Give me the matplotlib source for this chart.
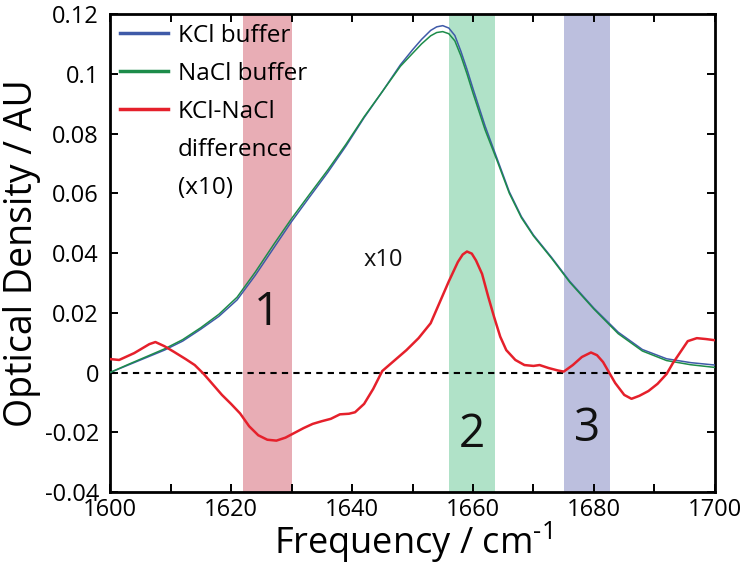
import matplotlib
matplotlib.use("Agg")
import matplotlib.pyplot as plt
from matplotlib.lines import Line2D
from matplotlib.ticker import MultipleLocator

plt.rcParams["font.family"] = ["Open Sans", "DejaVu Sans"]
plt.rcParams["mathtext.fontset"] = "custom"
plt.rcParams["mathtext.rm"] = "Open Sans"

# Buffer spectra (optical density)
freq_buf = [1600, 1603, 1606, 1609, 1612, 1615, 1618, 1621, 1624, 1627, 1630,
            1633, 1636, 1639, 1642, 1645, 1648, 1650, 1651.5, 1653, 1654,
            1655, 1656, 1657, 1658, 1659, 1660, 1662, 1664, 1666, 1668, 1670,
            1673, 1676, 1680, 1684, 1688, 1692, 1696, 1700]
kcl_od = [0.0, 0.0025, 0.005, 0.0075, 0.0105, 0.0145, 0.0188, 0.0243, 0.0325,
          0.0415, 0.0505, 0.0588, 0.067, 0.0758, 0.0853, 0.0940, 0.1030, 0.1080,
          0.1115, 0.1145, 0.1157, 0.1161, 0.1153, 0.1128, 0.1075, 0.1015,
          0.0950, 0.0825, 0.0715, 0.0605, 0.0522, 0.0460, 0.0385, 0.0305,
          0.0215, 0.0135, 0.0077, 0.0046, 0.0033, 0.0025]
nacl_od = [0.0, 0.0027, 0.0053, 0.0079, 0.0110, 0.0150, 0.0195, 0.0252, 0.0336,
           0.0427, 0.0515, 0.0597, 0.0678, 0.0764, 0.0856, 0.0940, 0.1025,
           0.1068, 0.1100, 0.1127, 0.1138, 0.1141, 0.1134, 0.1110, 0.1060,
           0.1000, 0.0935, 0.0812, 0.0708, 0.0600, 0.0518, 0.0457, 0.0382,
           0.0302, 0.0212, 0.0130, 0.0072, 0.0040, 0.0026, 0.0017]

# KCl - NaCl difference (already scaled x10)
freq_diff = [1600, 1601.5, 1604, 1606.5, 1607.5, 1609, 1610.5, 1612.5, 1614,
             1615.5, 1617, 1618.5, 1620, 1621.5, 1623, 1624.5, 1626, 1627.5,
             1629, 1630.5, 1632, 1633.5, 1635, 1636.5, 1638, 1639.5, 1640.5,
             1642, 1643.5, 1645, 1647, 1649, 1651, 1653, 1654.5, 1656, 1657.5,
             1658.3, 1659, 1659.8, 1660.5, 1661.5, 1662.5, 1663.5, 1664.5,
             1665.5, 1667, 1668.5, 1670, 1671, 1672.5, 1674, 1675, 1676.5,
             1678, 1679.5, 1680.5, 1681.5, 1682.5, 1683.5, 1685, 1686.2,
             1687.5, 1689, 1690.5, 1692, 1693, 1694.5, 1695.5, 1697, 1698.5,
             1700]
diff_x10 = [0.0045, 0.0042, 0.0065, 0.0095, 0.0102, 0.0088, 0.0070, 0.0045,
            0.0025, -0.0005, -0.0040, -0.0075, -0.0105, -0.0137, -0.0180,
            -0.0210, -0.0225, -0.0228, -0.0218, -0.0202, -0.0186, -0.0172,
            -0.0163, -0.0155, -0.0140, -0.0138, -0.0133, -0.0105, -0.0055,
            0.0005, 0.0040, 0.0075, 0.0115, 0.0165, 0.0235, 0.0305, 0.0370,
            0.0395, 0.0405, 0.0398, 0.0375, 0.0330, 0.0255, 0.0185, 0.0120,
            0.0075, 0.0042, 0.0025, 0.0022, 0.0025, 0.0015, 0.0007, 0.0003,
            0.0025, 0.0052, 0.0067, 0.0058, 0.0035, 0.0000, -0.0035, -0.0075,
            -0.0088, -0.0078, -0.0062, -0.0038, -0.0005, 0.0030, 0.0075,
            0.0105, 0.0115, 0.0112, 0.0108]

# Highlighted bands
band_labels = ["1", "2", "3"]
band_lo = [1622.0, 1656.0, 1675.0]
band_hi = [1630.0, 1663.7, 1682.7]
band_colors = ["#e8adb5", "#b0e2c8", "#bcbfde"]
band_text_y = [0.020, -0.021, -0.019]

y_ticks = [-0.04, -0.02, 0, 0.02, 0.04, 0.06, 0.08, 0.1, 0.12]
y_ticklabels = ["-0.04", "-0.02", "0", "0.02", "0.04", "0.06", "0.08", "0.1", "0.12"]
x_ticks = [1600, 1620, 1640, 1660, 1680, 1700]

# Legend: one row per line of text, only the first row of the difference gets a line
legend_labels = ["KCl buffer", "NaCl buffer", "KCl-NaCl", "difference", "(x10)"]

BLUE = "#3f5aa8"
GREEN = "#1d8c4a"
RED = "#e5202b"

fig = plt.figure(figsize=(7.45, 5.69), dpi=100)
ax = fig.add_axes([0.1477, 0.1353, 0.8120, 0.8401])

for lo, hi, c, lab, ty in zip(band_lo, band_hi, band_colors, band_labels, band_text_y):
    ax.axvspan(lo, hi, color=c, lw=0, zorder=0)
    ax.text((lo + hi) / 2, ty, lab, fontsize=33, ha="center", va="center", color="#111111")

ax.axhline(0, color="black", linestyle=(0, (3, 2.5)), linewidth=1.5, zorder=1)

ax.plot(freq_buf, kcl_od, color=BLUE, linewidth=1.1, zorder=3)
ax.plot(freq_buf, nacl_od, color=GREEN, linewidth=1.1, zorder=3)
ax.plot(freq_diff, diff_x10, color=RED, linewidth=1.8, zorder=4)

ax.text(1645.2, 0.0375, "x10", fontsize=17, ha="center", va="center", color="#111111")

ax.set_xlim(1600, 1700)
ax.set_ylim(-0.04, 0.12)
ax.set_xticks(x_ticks)
ax.xaxis.set_minor_locator(MultipleLocator(10))
ax.set_yticks(y_ticks)
ax.set_yticklabels(y_ticklabels)
ax.tick_params(which="both", direction="in", top=True, right=True,
               length=6, width=1.4, labelsize=17)
ax.tick_params(axis="x", pad=4)
ax.tick_params(axis="y", pad=8)
for sp in ax.spines.values():
    sp.set_linewidth(2.0)

ax.set_xlabel(r"Frequency / cm$^{\text{-1}}$", fontsize=26, va="center")
ax.xaxis.set_label_coords(0.5, -0.106)
ax.set_ylabel("Optical Density / AU", fontsize=27, va="center")
ax.yaxis.set_label_coords(-0.145, 0.5)

handles = [Line2D([], [], color=BLUE, lw=2.5),
           Line2D([], [], color=GREEN, lw=2.5),
           Line2D([], [], color=RED, lw=2.5),
           Line2D([], [], color="none", lw=2.5),
           Line2D([], [], color="none", lw=2.5)]
ax.legend(handles, legend_labels, loc="upper left", frameon=False, fontsize=17.5,
          handlelength=2.0, handletextpad=0.4, labelspacing=0.58,
          borderaxespad=0.0, bbox_to_anchor=(0.0, 1.0))

fig.savefig("out.png", dpi=100)
